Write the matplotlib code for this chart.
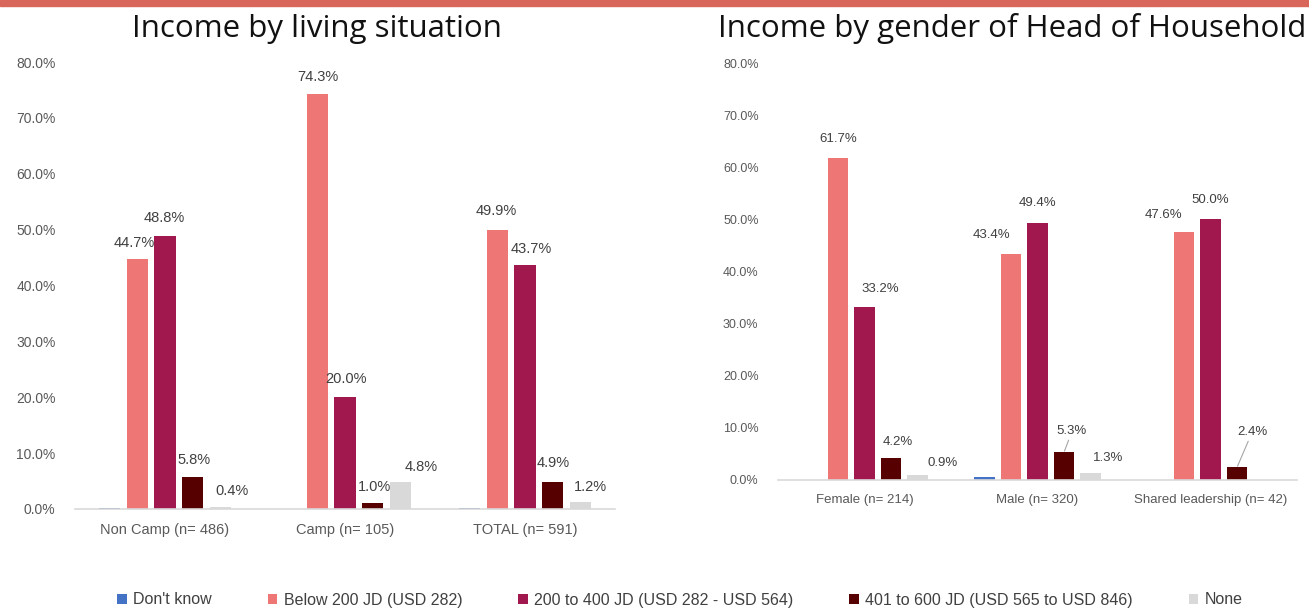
import matplotlib.pyplot as plt
import numpy as np
from matplotlib import font_manager
from matplotlib.patches import Rectangle

# ---- fonts ----
available = {f.name for f in font_manager.fontManager.ttflist}
body_font = 'Liberation Sans Narrow' if 'Liberation Sans Narrow' in available else 'Liberation Sans'
plt.rcParams['font.family'] = [body_font, 'DejaVu Sans']

# ---- data ----
series = ["Don't know", "Below 200 JD (USD 282)", "200 to 400 JD (USD 282 - USD 564)",
          "401 to 600 JD (USD 565 to USD 846)", "None"]
colors = ["#4472C4", "#EE7674", "#A0184E", "#560000", "#D9D9D9"]

living_cats = ["Non Camp (n= 486)", "Camp (n= 105)", "TOTAL (n= 591)"]
living_dont_know = [0.2, 0.0, 0.2]
living_below_200 = [44.7, 74.3, 49.9]
living_200_400 = [48.8, 20.0, 43.7]
living_401_600 = [5.8, 1.0, 4.9]
living_none = [0.4, 4.8, 1.2]

gender_cats = ["Female (n= 214)", "Male (n= 320)", "Shared leadership (n= 42)"]
gender_dont_know = [0.0, 0.6, 0.0]
gender_below_200 = [61.7, 43.4, 47.6]
gender_200_400 = [33.2, 49.4, 50.0]
gender_401_600 = [4.2, 5.3, 2.4]
gender_none = [0.9, 1.3, 0.0]

# label offsets in pixels (series index, category index) -> (dx, dy)
living_offsets = {
    (1, 0): (-3, 16), (2, 0): (-1, 18), (3, 0): (1, 17), (4, 0): (12, 16),
    (1, 1): (0, 17), (2, 1): (1, 18), (3, 1): (2, 16), (4, 1): (21, 15),
    (1, 2): (-1, 19), (2, 2): (6, 16), (3, 2): (1, 19), (4, 2): (10, 15),
}
gender_offsets = {
    (1, 0): (0, 19), (2, 0): (16, 18), (3, 0): (7, 16), (4, 0): (25, 12),
    (1, 1): (-20, 19), (2, 1): (0, 20), (3, 1): (8, 21), (4, 1): (18, 15),
    (1, 2): (-21, 17), (2, 2): (0, 19), (3, 2): (15, 35),
}
gender_leaders = [(3, 1), (3, 2)]


def draw(ax, cats, data, offsets, label_size, tick_size, cat_size, leaders=()):
    x = np.arange(len(cats))
    pitch, width = 0.153, 0.117
    for i, vals in enumerate(data):
        pos = x + (i - 2) * pitch
        ax.bar(pos, vals, width, color=colors[i], label=series[i], zorder=2)
        for j, v in enumerate(vals):
            if (i, j) not in offsets:
                continue
            dx, dy = offsets[(i, j)]
            arrow = None
            if (i, j) in leaders:
                arrow = dict(arrowstyle='-', color='#A6A6A6', lw=0.8, shrinkA=0, shrinkB=1)
            ax.annotate(f"{v:.1f}%", (pos[j], v), xytext=(dx * 0.72, dy * 0.72),
                        textcoords='offset points', ha='center', va='center',
                        fontsize=label_size, color='#404040', arrowprops=arrow)
    ax.set_xlim(-0.5, 2.5)
    ax.set_ylim(0, 80)
    ticks = np.arange(0, 81, 10)
    ax.set_yticks(ticks)
    ax.set_yticklabels([f"{t:.1f}%" for t in ticks], fontsize=tick_size, color='#595959')
    ax.set_xticks(x)
    ax.set_xticklabels(cats, fontsize=cat_size, color='#595959')
    ax.tick_params(length=0)
    ax.tick_params(axis='y', pad=14)
    ax.tick_params(axis='x', pad=10)
    for s in ['top', 'right', 'left']:
        ax.spines[s].set_visible(False)
    ax.spines['bottom'].set_color('#D9D9D9')
    ax.spines['bottom'].set_linewidth(1.2)
    ax.set_facecolor('none')


W, H = 1309, 609
fig = plt.figure(figsize=(W / 100, H / 100), dpi=100)

# top accent band
fig.patches.append(Rectangle((0, 1 - 6 / H), 1, 6 / H, transform=fig.transFigure,
                             color='#D9665B', zorder=0))

ax1 = fig.add_axes([75 / W, (H - 509) / H, 540 / W, 447 / H])
draw(ax1, living_cats,
     [living_dont_know, living_below_200, living_200_400, living_401_600, living_none],
     living_offsets, 10.5, 10, 10.5)

ax2 = fig.add_axes([778 / W, (H - 480) / H, 519 / W, 417 / H])
draw(ax2, gender_cats,
     [gender_dont_know, gender_below_200, gender_200_400, gender_401_600, gender_none],
     gender_offsets, 9.5, 9, 9.5, leaders=gender_leaders)

title_font = ['Open Sans', 'DejaVu Sans']
fig.text(317 / W, 1 - 29 / H, "Income by living situation", ha='center', va='center',
         fontsize=22.5, family=title_font, color='#111111')
fig.text(1012 / W, 1 - 29 / H, "Income by gender of Head of Household", ha='center', va='center',
         fontsize=22.5, family=title_font, color='#111111')

handles, labels = ax1.get_legend_handles_labels()
fig.legend(handles, labels, loc='center', bbox_to_anchor=(680 / W, 1 - 600 / H), ncol=5,
           frameon=False, fontsize=11.5, handlelength=0.6, handleheight=0.6,
           handletextpad=0.4, columnspacing=3.5, labelcolor='#404040')

fig.savefig('out.png', dpi=100)
